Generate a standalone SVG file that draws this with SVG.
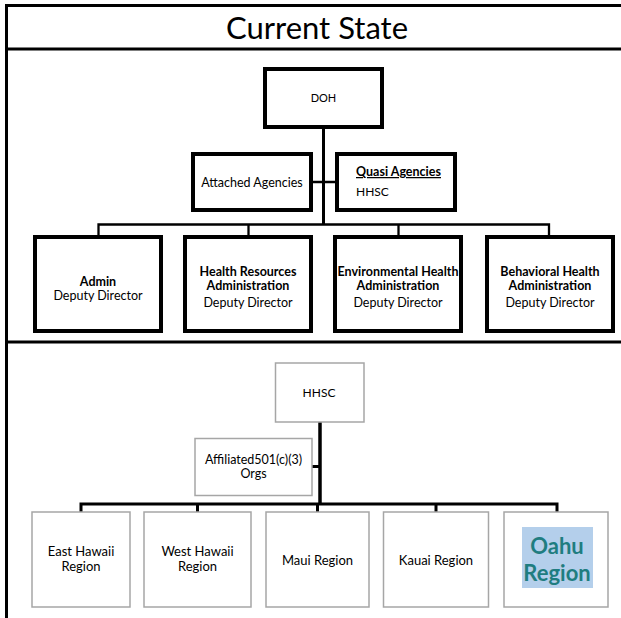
<svg xmlns="http://www.w3.org/2000/svg" width="621" height="618" viewBox="0 0 621 618">
<style>
  text { font-family: Lato, "Liberation Sans", sans-serif; fill: #000; }
  .t { font-size: 12.5px; text-anchor: middle; }
  .r { font-size: 13px; text-anchor: middle; }
  .b { font-weight: bold; }
  .title { font-size: 31px; text-anchor: middle; }
  .bx { fill: #fff; stroke: #000; stroke-width: 4; }
  .gx { fill: #fff; stroke: #a6a6a6; stroke-width: 1.5; }
  .frame { stroke: #000; stroke-width: 3; fill: none; }
  .c { stroke: #000; fill: none; }
</style>
<rect width="621" height="618" fill="#fff"/>
<g id="frame">
  <line class="frame" x1="5" y1="5.5" x2="621" y2="5.5"/>
  <line class="frame" x1="6.5" y1="4" x2="6.5" y2="618"/>
  <line class="frame" x1="5" y1="49" x2="621" y2="49"/>
  <line class="frame" x1="5" y1="342" x2="621" y2="342"/>
  <text class="title" x="317" y="39">Current State</text>
</g>
<g id="connectors">
  <line class="c" stroke-width="3" x1="323.5" y1="129" x2="323.5" y2="225"/>
  <line class="c" stroke-width="2.5" x1="313" y1="182" x2="335" y2="182"/>
  <polyline class="c" stroke-width="2.3" points="98.5,236 98.5,224.5 549,224.5 549,236"/>
  <line class="c" stroke-width="2.3" x1="248.5" y1="224.5" x2="248.5" y2="236"/>
  <line class="c" stroke-width="2.3" x1="398.5" y1="224.5" x2="398.5" y2="236"/>
  <line class="c" stroke-width="3.5" x1="320" y1="422" x2="320" y2="505"/>
  <line class="c" stroke-width="3" x1="312" y1="466.5" x2="320" y2="466.5"/>
  <polyline class="c" stroke-width="3" points="81,512 81,504 557,504 557,512"/>
  <line class="c" stroke-width="3" x1="197.5" y1="504" x2="197.5" y2="512"/>
  <line class="c" stroke-width="3" x1="317.5" y1="504" x2="317.5" y2="512"/>
  <line class="c" stroke-width="3" x1="436" y1="504" x2="436" y2="512"/>
</g>
<g id="doh">
  <rect class="bx" x="265" y="69" width="117" height="58"/>
  <text class="t" x="323.5" y="102" style="font-size:11px">DOH</text>
</g>
<g id="attached">
  <rect class="bx" x="193" y="154" width="118" height="56"/>
  <text class="t" x="252" y="186.5">Attached Agencies</text>
</g>
<g id="quasi">
  <rect class="bx" x="337" y="154" width="118" height="56"/>
  <text class="b" x="356" y="176" style="font-size:12.5px" text-decoration="underline">Quasi Agencies</text>
  <text x="356" y="196" style="font-size:12px">HHSC</text>
</g>
<g id="admin">
  <rect class="bx" x="35" y="237" width="126" height="94"/>
  <text class="t b" x="98" y="286">Admin</text>
  <text class="t" x="98" y="300">Deputy Director</text>
</g>
<g id="hra">
  <rect class="bx" x="185" y="237" width="126" height="94"/>
  <text class="t b" x="248" y="276">Health Resources</text>
  <text class="t b" x="248" y="289.5">Administration</text>
  <text class="t" x="248" y="306.5">Deputy Director</text>
</g>
<g id="eha">
  <rect class="bx" x="335" y="237" width="126" height="94"/>
  <text class="t b" x="398" y="276">Environmental Health</text>
  <text class="t b" x="398" y="289.5">Administration</text>
  <text class="t" x="398" y="306.5">Deputy Director</text>
</g>
<g id="bha">
  <rect class="bx" x="487" y="237" width="126" height="94"/>
  <text class="t b" x="550" y="276">Behavioral Health</text>
  <text class="t b" x="550" y="289.5">Administration</text>
  <text class="t" x="550" y="306.5">Deputy Director</text>
</g>
<g id="hhsc">
  <rect class="gx" x="275.5" y="363" width="88.5" height="59"/>
  <text class="t" x="319" y="397" style="font-size:12px">HHSC</text>
</g>
<g id="affiliated">
  <rect class="gx" x="195" y="438.5" width="117" height="57"/>
  <text class="t" x="253.5" y="463.5">Affiliated501(c)(3)</text>
  <text class="t" x="253.5" y="477.5">Orgs</text>
</g>
<g id="east">
  <rect class="gx" x="32" y="512" width="98" height="95"/>
  <text class="r" x="81" y="556">East Hawaii</text>
  <text class="r" x="81" y="571">Region</text>
</g>
<g id="west">
  <rect class="gx" x="144" y="512" width="107" height="95"/>
  <text class="r" x="197.5" y="556">West Hawaii</text>
  <text class="r" x="197.5" y="571">Region</text>
</g>
<g id="maui">
  <rect class="gx" x="266" y="512" width="103" height="95"/>
  <text class="r" x="317.5" y="564.5">Maui Region</text>
</g>
<g id="kauai">
  <rect class="gx" x="383.5" y="512" width="105" height="95"/>
  <text class="r" x="436" y="564.5">Kauai Region</text>
</g>
<g id="oahu">
  <rect class="gx" x="504" y="512" width="104" height="95"/>
  <rect x="522" y="527" width="71" height="61" fill="#b4cfeb"/>
  <text class="b" x="557" y="554" text-anchor="middle" style="font-size:22px;fill:#1f7d80">Oahu</text>
  <text class="b" x="557" y="581" text-anchor="middle" style="font-size:22px;fill:#1f7d80">Region</text>
</g>
</svg>
